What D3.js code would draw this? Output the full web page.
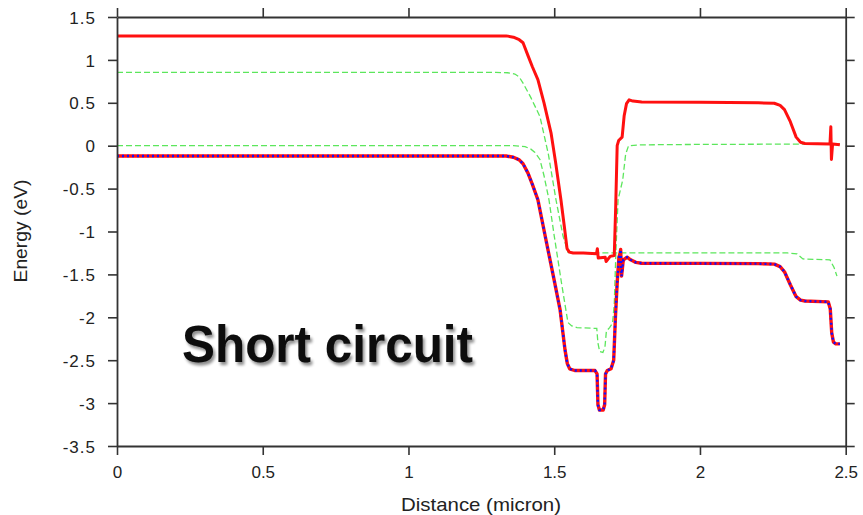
<!DOCTYPE html>
<html>
<head>
<meta charset="utf-8">
<script src="https://cdn.jsdelivr.net/npm/d3@7"></script>
<style>
  html, body { margin: 0; padding: 0; background: #fff; }
  svg { display: block; }
  text { font-family: "Liberation Sans", Arial, Helvetica, sans-serif; }
</style>
</head>
<body>
<svg id="chart" width="863" height="515"></svg>
<script>
// ---- data (x in micron, y in eV) ----
const xTicks = [0, 0.5, 1, 1.5, 2, 2.5];
const xTickLabels = ["0", "0.5", "1", "1.5", "2", "2.5"];
const yTicks = [1.5, 1, 0.5, 0, -0.5, -1, -1.5, -2, -2.5, -3, -3.5];
const yTickLabels = ["1.5", "1", "0.5", "0", "-0.5", "-1", "-1.5", "-2", "-2.5", "-3", "-3.5"];

// conduction band (red solid)
const ecBand = [
  [0, 1.28], [1.30, 1.28], [1.335, 1.28], [1.36, 1.265], [1.38, 1.235], [1.393, 1.20],
  [1.41, 1.05], [1.425, 0.92], [1.444, 0.77], [1.465, 0.50], [1.489, 0.15], [1.505, -0.20],
  [1.523, -0.63], [1.535, -0.95], [1.544, -1.20], [1.552, -1.24], [1.565, -1.25],
  [1.60, -1.25], [1.645, -1.26], [1.648, -1.20], [1.651, -1.31], [1.675, -1.30],
  [1.678, -1.35], [1.692, -1.29], [1.706, -1.28], [1.711, -0.70], [1.716, 0.00],
  [1.721, 0.06], [1.733, 0.10], [1.740, 0.35], [1.748, 0.49], [1.757, 0.535],
  [1.77, 0.52], [1.80, 0.51], [2.0, 0.505], [2.2, 0.50], [2.255, 0.495], [2.275, 0.47],
  [2.29, 0.42], [2.31, 0.28], [2.33, 0.10], [2.345, 0.04], [2.36, 0.025],
  [2.446, 0.02], [2.449, 0.22], [2.451, -0.16], [2.455, 0.02], [2.48, 0.01]
];

// valence band (red + blue dotted)
const evBand = [
  [0, -0.12], [1.30, -0.12], [1.335, -0.12], [1.36, -0.135], [1.38, -0.165], [1.393, -0.21],
  [1.41, -0.32], [1.425, -0.45], [1.444, -0.63], [1.47, -1.07], [1.50, -1.57],
  [1.52, -1.91], [1.537, -2.38], [1.545, -2.54], [1.553, -2.60], [1.57, -2.62],
  [1.64, -2.62], [1.647, -2.66], [1.650, -3.02], [1.655, -3.08], [1.668, -3.08],
  [1.673, -3.02], [1.676, -2.66], [1.682, -2.62], [1.695, -2.60], [1.704, -2.50],
  [1.710, -2.00], [1.716, -1.60], [1.722, -1.30], [1.726, -1.25], [1.728, -1.21],
  [1.731, -1.52], [1.737, -1.33], [1.75, -1.30], [1.762, -1.33], [1.78, -1.36],
  [1.80, -1.37], [2.0, -1.372], [2.2, -1.375], [2.255, -1.38], [2.275, -1.41],
  [2.29, -1.47], [2.31, -1.62], [2.33, -1.76], [2.345, -1.80], [2.36, -1.81],
  [2.44, -1.82], [2.447, -1.90], [2.452, -2.18], [2.458, -2.29], [2.466, -2.31], [2.48, -2.31]
];

// upper quasi-Fermi level (green dashed, starts at 0.85)
const fermiUpper = [
  [0, 0.855], [1.30, 0.855], [1.34, 0.85], [1.365, 0.835], [1.38, 0.80], [1.393, 0.73],
  [1.42, 0.56], [1.451, 0.34], [1.48, -0.10], [1.506, -0.63], [1.53, -1.05],
  [1.547, -1.24], [1.56, -1.25], [2.0, -1.25], [2.30, -1.25], [2.333, -1.26],
  [2.353, -1.32], [2.40, -1.325], [2.446, -1.33], [2.46, -1.42], [2.47, -1.52]
];

// lower quasi-Fermi level (green dashed, starts at 0)
const fermiLower = [
  [0, 0.0], [1.36, 0.0], [1.40, -0.01], [1.42, -0.04], [1.434, -0.08], [1.451, -0.16],
  [1.465, -0.35], [1.482, -0.63], [1.50, -1.05], [1.525, -1.60], [1.547, -2.06],
  [1.56, -2.10], [1.578, -2.12], [1.646, -2.13], [1.650, -2.30], [1.656, -2.40],
  [1.667, -2.41], [1.674, -2.35], [1.679, -2.16], [1.69, -2.12], [1.70, -2.07],
  [1.706, -1.85], [1.712, -1.20], [1.719, -0.63], [1.735, -0.40], [1.745, -0.10],
  [1.755, 0.0], [1.80, 0.01], [2.0, 0.015], [2.48, 0.02]
];

const titleText = "Short circuit";
const xLabel = "Distance (micron)";
const yLabel = "Energy (eV)";

// ---- layout ----
const svg = d3.select("#chart");
const plotLeft = 117, plotRight = 845.7, plotTop = 17, plotBottom = 446;
const x = d3.scaleLinear().domain([0, 2.5]).range([plotLeft, plotRight]);
const y = d3.scaleLinear().domain([-3.5, 1.5]).range([plotBottom, plotTop]);

const axisColor = "#333";

// drop-shadow filter for title
const defs = svg.append("defs");
const f = defs.append("filter").attr("id", "shadow").attr("x", "-10%").attr("y", "-30%")
  .attr("width", "120%").attr("height", "160%");
f.append("feGaussianBlur").attr("in", "SourceAlpha").attr("stdDeviation", 1.4).attr("result", "b");
f.append("feOffset").attr("in", "b").attr("dx", 2).attr("dy", 3).attr("result", "o");
f.append("feComponentTransfer").attr("in", "o").attr("result", "s")
  .append("feFuncA").attr("type", "linear").attr("slope", 0.45);
const m = f.append("feMerge");
m.append("feMergeNode").attr("in", "s");
m.append("feMergeNode").attr("in", "SourceGraphic");

// ---- series ----
const line = d3.line().x(d => x(d[0])).y(d => y(d[1]));

svg.append("path").datum(fermiUpper).attr("d", line)
  .attr("fill", "none").attr("stroke", "#5ce65c").attr("stroke-width", 1.3)
  .attr("stroke-dasharray", "6,3");
svg.append("path").datum(fermiLower).attr("d", line)
  .attr("fill", "none").attr("stroke", "#5ce65c").attr("stroke-width", 1.3)
  .attr("stroke-dasharray", "6,3");

svg.append("path").datum(ecBand).attr("d", line)
  .attr("fill", "none").attr("stroke", "#ff1010").attr("stroke-width", 3)
  .attr("stroke-linejoin", "round");

svg.append("path").datum(evBand).attr("d", line)
  .attr("fill", "none").attr("stroke", "#ff1010").attr("stroke-width", 3.4)
  .attr("stroke-linejoin", "round");
svg.append("path").datum(evBand).attr("d", line)
  .attr("fill", "none").attr("stroke", "#1010ff").attr("stroke-width", 2.4)
  .attr("stroke-dasharray", "2,3");

// ---- axes ----
const tickLen = 9;
const gL = svg.append("g").attr("transform", `translate(${plotLeft},0)`)
  .call(d3.axisLeft(y).tickValues(yTicks).tickSize(tickLen).tickSizeOuter(0)
    .tickFormat((d, i) => yTickLabels[i]).tickPadding(12));
const gR = svg.append("g").attr("transform", `translate(${plotRight},0)`)
  .call(d3.axisRight(y).tickValues(yTicks).tickSize(tickLen).tickSizeOuter(0).tickFormat(""));
const gB = svg.append("g").attr("transform", `translate(0,${plotBottom})`)
  .call(d3.axisBottom(x).tickValues(xTicks).tickSize(tickLen).tickSizeOuter(0)
    .tickFormat((d, i) => xTickLabels[i]).tickPadding(11));
const gT = svg.append("g").attr("transform", `translate(0,${plotTop})`)
  .call(d3.axisTop(x).tickValues(xTicks).tickSize(tickLen).tickSizeOuter(0).tickFormat(""));

[gL, gR, gB, gT].forEach(g => {
  g.select(".domain").attr("stroke", axisColor).attr("stroke-width", 1.8);
  g.selectAll(".tick line").attr("stroke", axisColor).attr("stroke-width", 1.6);
  g.selectAll(".tick text").attr("fill", "#222").attr("font-size", 17)
    .attr("font-family", "Liberation Sans, Arial, sans-serif");
});
gL.selectAll(".tick text").attr("letter-spacing", 1).attr("dy", "0.36em");

// ---- labels ----
svg.append("text").attr("x", 481).attr("y", 511).attr("text-anchor", "middle")
  .attr("font-size", 19).attr("fill", "#222")
  .attr("textLength", 160).attr("lengthAdjust", "spacingAndGlyphs")
  .text(xLabel);
svg.append("text").attr("transform", "translate(27,231) rotate(-90)")
  .attr("text-anchor", "middle").attr("font-size", 19).attr("fill", "#222")
  .attr("textLength", 103).attr("lengthAdjust", "spacingAndGlyphs")
  .text(yLabel);

// title with drop shadow (single text element)
svg.append("text").attr("x", 182).attr("y", 362)
  .attr("font-size", 52).attr("font-weight", "bold").attr("fill", "#0a0a0a")
  .attr("textLength", 291).attr("lengthAdjust", "spacingAndGlyphs")
  .attr("filter", "url(#shadow)")
  .text(titleText);
</script>
</body>
</html>
